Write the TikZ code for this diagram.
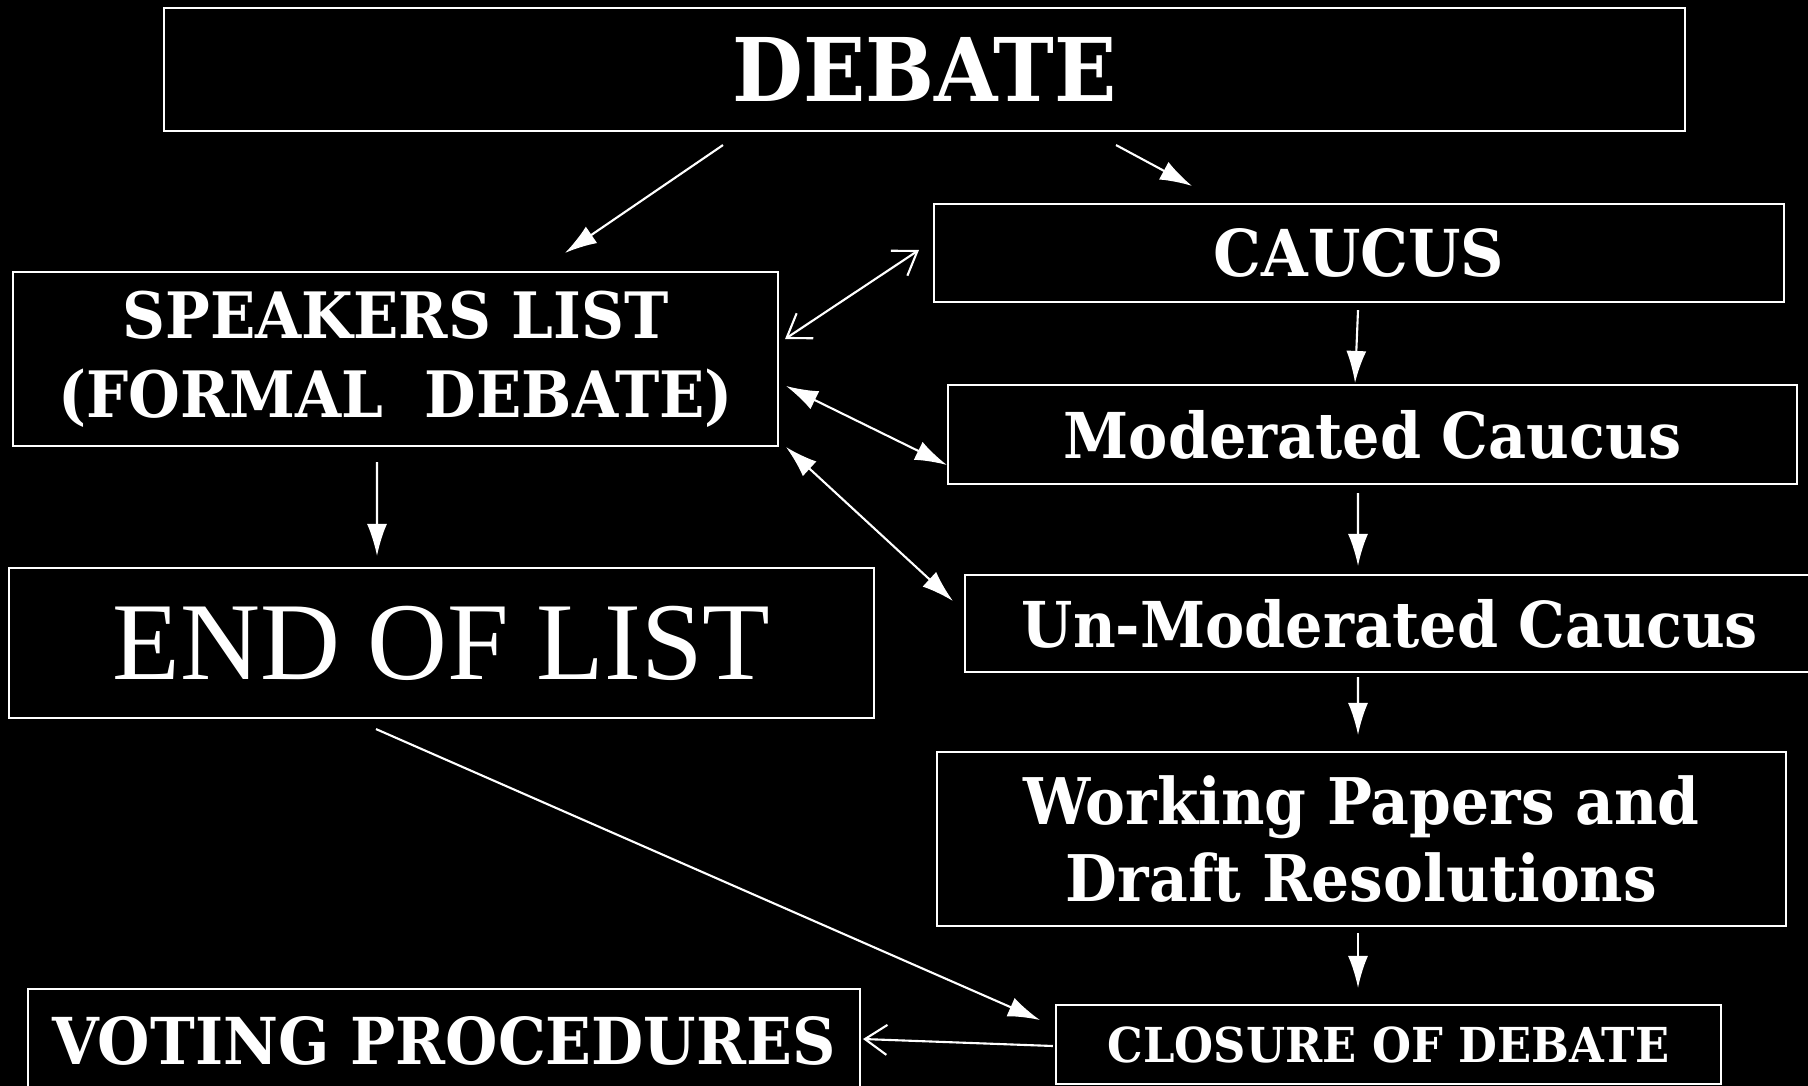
\documentclass[tikz,border=0pt]{standalone}
\usepackage{fontspec}
\setmainfont{DejaVu Serif}[FakeStretch=0.93]
\newfontfamily\plainserif{Liberation Serif}
\usetikzlibrary{arrows.meta}

\begin{document}
\begin{tikzpicture}[
	box/.style={draw=white, line width=0.6pt, text=white, align=center, inner sep=0pt, font=\bfseries},
	link/.style={draw=white, line width=0.6pt, -{Latex[length=3.2mm,width=2mm]}},
	openlink/.style={draw=white, line width=0.6pt, {Straight Barb[length=2.2mm,width=3mm]}-{Straight Barb[length=2.2mm,width=3mm]}},
	twolink/.style={draw=white, line width=0.6pt, {Latex[length=3.2mm,width=2mm]}-{Latex[length=3.2mm,width=2mm]}}
]
		\fill[black] (0,0) rectangle (18.08,-10.86);
		\useasboundingbox (0,0) rectangle (18.08,-10.86);

		\draw (9.245,-0.695) node[box, minimum width=15.21cm, minimum height=1.23cm, font=\bfseries\fontsize{25}{28}\selectfont] (debate) {DEBATE};
		\draw (13.59,-2.53) node[box, minimum width=8.50cm, minimum height=0.98cm, font=\bfseries\fontsize{18.4}{22}\selectfont] (caucus) {CAUCUS};
		\draw (3.955,-3.59) node[box, minimum width=7.65cm, minimum height=1.74cm, font=\bfseries\fontsize{18.2}{22.6}\selectfont] (speakers) {SPEAKERS LIST\\(FORMAL~ DEBATE)};
		\draw (13.725,-4.345) node[box, minimum width=8.49cm, minimum height=0.99cm, font=\bfseries\fontsize{18}{22}\selectfont] (moderated) {Moderated Caucus};
		\draw (4.415,-6.43) node[box, minimum width=8.65cm, minimum height=1.50cm, font=\plainserif\fontsize{31.5}{36}\selectfont] (endlist) {END OF LIST};
		\draw (13.90,-6.235) node[box, minimum width=8.50cm, minimum height=0.97cm, font=\bfseries\fontsize{18}{22}\selectfont] (unmod) {Un-Moderated Caucus};
		\draw (13.615,-8.39) node[box, minimum width=8.49cm, minimum height=1.74cm, font=\bfseries\fontsize{18.3}{21.8}\selectfont] (working) {Working Papers and\\Draft Resolutions};
		\draw (4.44,-10.41) node[box, minimum width=8.32cm, minimum height=1.04cm, font=\bfseries\fontsize{18.4}{22}\selectfont] (voting) {VOTING PROCEDURES};
		\draw (13.885,-10.445) node[box, minimum width=6.65cm, minimum height=0.79cm, font=\bfseries\fontsize{13.7}{17}\selectfont] (closure) {CLOSURE OF DEBATE};

		\draw [link] ([xshift=-2.015cm, yshift=-0.13cm]debate.south) -- ([xshift=1.695cm, yshift=0.18cm]speakers.north);
		\draw [link] ([xshift=1.915cm, yshift=-0.13cm]debate.south) -- ([xshift=-1.67cm, yshift=0.17cm]caucus.north);
		\draw [openlink] ([xshift=0.06cm, yshift=0.20cm]speakers.east) -- ([xshift=-0.14cm, yshift=0.03cm]caucus.west);
		\draw [twolink] ([xshift=0.07cm, yshift=-0.27cm]speakers.east) -- ([yshift=-0.305cm]moderated.west);
		\draw [twolink] ([xshift=0.07cm]speakers.south east) -- ([xshift=-0.11cm, yshift=0.225cm]unmod.west);
		\draw [link] ([xshift=-0.01cm, yshift=-0.07cm]caucus.south) -- ([xshift=-0.175cm, yshift=0.01cm]moderated.north);
		\draw [link] ([xshift=-0.145cm, yshift=-0.08cm]moderated.south) -- ([xshift=-0.32cm, yshift=0.08cm]unmod.north);
		\draw [link] ([xshift=-0.32cm, yshift=-0.04cm]unmod.south) -- ([xshift=-0.035cm, yshift=0.16cm]working.north);
		\draw [link] ([xshift=-0.035cm, yshift=-0.06cm]working.south) -- ([xshift=-0.305cm, yshift=0.16cm]closure.north);
		\draw [link] ([xshift=-0.185cm, yshift=-0.15cm]speakers.south) -- ([xshift=-0.645cm, yshift=0.11cm]endlist.north);
		\draw [link] ([xshift=-0.655cm, yshift=-0.10cm]endlist.south) -- ([xshift=-0.15cm, yshift=0.245cm]closure.west);
		\draw [draw=white, line width=0.6pt, -{Straight Barb[length=2.2mm,width=3mm]}] ([xshift=-0.02cm, yshift=-0.015cm]closure.west) -- ([xshift=0.02cm, yshift=0.02cm]voting.east);
	\end{tikzpicture}
\end{document}
